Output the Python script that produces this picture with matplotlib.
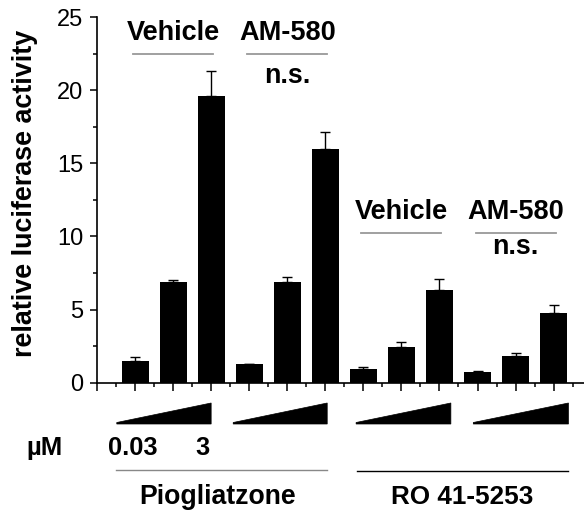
import matplotlib
matplotlib.use("Agg")
import matplotlib.pyplot as plt
from matplotlib.patches import Polygon
from matplotlib.transforms import blended_transform_factory
import numpy as np

# ---- data ----
positions = [1, 2, 3, 4, 5, 6, 7, 8, 9, 10, 11, 12]
values = [1.51, 6.88, 19.6, 1.29, 6.88, 16.0, 0.94, 2.45, 6.33, 0.71, 1.84, 4.77]
errors = [0.28, 0.13, 1.68, 0.0, 0.37, 1.15, 0.12, 0.33, 0.73, 0.07, 0.18, 0.55]
group_labels = ["Vehicle", "AM-580", "Vehicle", "AM-580"]
group_label_x = [2.0, 5.0, 8.0, 11.0]
drug_labels = ["Piogliatzone", "RO 41-5253"]
dose_labels = ["0.03", "3"]
yticks = [0, 5, 10, 15, 20, 25]

W, H = 584, 516
fig = plt.figure(figsize=(W / 100, H / 100), dpi=100)
plt.rcParams['font.family'] = ['Liberation Sans', 'DejaVu Sans']

ax_left, ax_right = 97, 584
ax_top, ax_bot = 17, 382.7
ax = fig.add_axes([ax_left / W, 1 - ax_bot / H, (ax_right - ax_left) / W, (ax_bot - ax_top) / H])
ax.set_xlim(0, (ax_right - ax_left) / 38.05)
ax.set_ylim(0, 25)

ax.bar(positions, values, width=0.71, color='black', zorder=2)
ax.errorbar(positions, values, yerr=[np.zeros(len(errors)), errors], fmt='none',
            ecolor='black', elinewidth=1.0, capsize=3.5, capthick=1.0, zorder=1)

for s in ['top', 'right']:
    ax.spines[s].set_visible(False)
for s in ['left', 'bottom']:
    ax.spines[s].set_linewidth(1.2)

ax.set_yticks(yticks)
ax.set_yticks(np.arange(0, 25.1, 2.5), minor=True)
ax.set_xticks(np.arange(0, 13, 1))
ax.set_xticks(np.arange(0.5, 13, 1), minor=True)
ax.set_xticklabels([])
ax.tick_params(axis='y', which='major', length=5, width=1.1, labelsize=17, pad=5)
ax.tick_params(axis='y', which='minor', length=3, width=1.1)
ax.tick_params(axis='x', which='major', length=5.5, width=1.1)
ax.tick_params(axis='x', which='minor', length=3, width=1.1)

# group labels above bars
top_base = [23.43, 23.43, 11.17, 11.17]
line_y = [22.47, 22.47, 10.2, 10.2]
for lab, gx, by, ly in zip(group_labels, group_label_x, top_base, line_y):
    ax.text(gx, by, lab, ha='center', va='baseline', fontsize=19.5, fontweight='bold', clip_on=False)
    ax.plot([gx - 1.05, gx + 1.05], [ly, ly], color='#999999', lw=1.3, clip_on=False)
ax.text(5.0, 20.47, "n.s.", ha='center', va='baseline', fontsize=19.3, fontweight='bold')
ax.text(11.0, 8.8, "n.s.", ha='center', va='baseline', fontsize=19.3, fontweight='bold')

# below-axis annotations (x in data, y in figure pixels)
tr = blended_transform_factory(ax.transData, fig.transFigure)
def fy(py):
    return 1 - py / H

wedges = [(0.52, 3.0), (3.58, 6.05), (6.81, 9.30), (9.89, 12.39)]
for x0, x1 in wedges:
    poly = Polygon([(x0, fy(424)), (x0, fy(422.5)), (x1, fy(403)), (x1, fy(424))],
                   closed=True, facecolor='black', edgecolor='black', lw=0.5,
                   transform=tr, clip_on=False)
    fig.add_artist(poly)

fig.text(45 / W, fy(455), "µM", ha='center', va='baseline', fontsize=18.5, fontweight='bold')
ax.text(0.94, fy(455), dose_labels[0], transform=tr, ha='center', va='baseline', fontsize=18.3, fontweight='bold')
ax.text(2.76, fy(455), dose_labels[1], transform=tr, ha='center', va='baseline', fontsize=18.3, fontweight='bold')

ax.plot([0.5, 6.04], [fy(469.5), fy(469.5)], transform=tr, color='#888888', lw=1.0, clip_on=False)
ax.plot([6.83, 12.37], [fy(470.7), fy(470.7)], transform=tr, color='black', lw=1.0, clip_on=False)
ax.text(3.17, fy(504), drug_labels[0], transform=tr, ha='center', va='baseline', fontsize=19.2, fontweight='bold')
ax.text(9.59, fy(504), drug_labels[1], transform=tr, ha='center', va='baseline', fontsize=18.8, fontweight='bold')

fig.text(38 / W, fy(193), "relative luciferase activity", rotation=90, ha='right', va='center',
         fontsize=19.4, fontweight='bold')

fig.savefig("out.png", dpi=100)
